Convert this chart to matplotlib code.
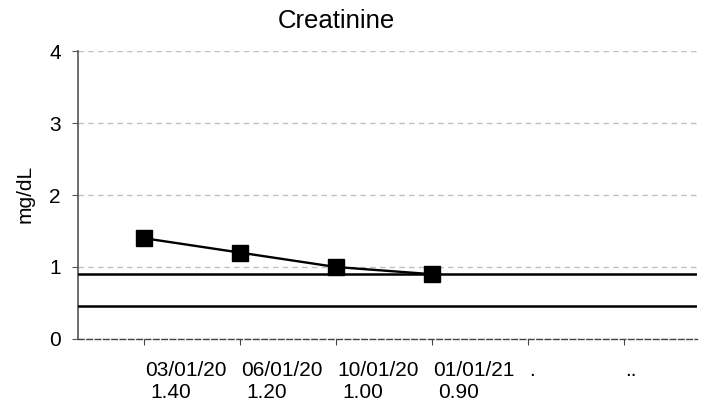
import matplotlib
matplotlib.use('Agg')
import matplotlib.pyplot as plt
import matplotlib.transforms as mtransforms

plt.rcParams['font.family'] = ['Liberation Sans', 'DejaVu Sans']

# Data
dates = ['03/01/20', '06/01/20', '10/01/20', '01/01/21', '.', '..']
values = [1.40, 1.20, 1.00, 0.90]
value_labels = ['1.40', '1.20', '1.00', '0.90', '', '']
upper_ref = 0.90
lower_ref = 0.46

fig = plt.figure(figsize=(7.01, 4.05), dpi=100)
ax = fig.add_axes([0.111, 0.163, 0.883, 0.711])

x = list(range(len(dates)))
ax.plot(x[:len(values)], values, color='black', linewidth=1.7,
        marker='s', markersize=12, zorder=4)

ax.axhline(upper_ref, color='black', linewidth=1.8, zorder=3)
ax.axhline(lower_ref, color='black', linewidth=1.8, zorder=3)

ax.set_xlim(-0.69, 5.76)
ax.set_ylim(0, 4)
ax.set_yticks([0, 1, 2, 3, 4])
ax.set_xticks(x)
ax.set_xticklabels([])

ax.grid(axis='y', color='#c0c0c0', linestyle=(0, (4, 3)), linewidth=1)
ax.set_axisbelow(True)

for s in ['top', 'right']:
    ax.spines[s].set_visible(False)
ax.spines['left'].set_color('#555555')
ax.spines['left'].set_linewidth(1.2)
ax.spines['bottom'].set_color('#444444')
ax.spines['bottom'].set_linestyle((0, (4, 2)))
ax.spines['bottom'].set_linewidth(1)

ax.tick_params(axis='y', labelsize=15, length=4.3, color='#555555', pad=8)
ax.tick_params(axis='x', length=4, color='#444444')

# category labels: date on top, value underneath, left-aligned at tick
trans = mtransforms.blended_transform_factory(ax.transData, fig.transFigure)
for i, (d, v) in enumerate(zip(dates, value_labels)):
    ax.text(i + 0.01, 1 - 376 / 405, d, transform=trans, ha='left',
            va='baseline', fontsize=15)
    ax.text(i + 0.065, 1 - 398 / 405, v, transform=trans, ha='left',
            va='baseline', fontsize=15)

fig.text(25.5 / 701, 1 - 194 / 405, 'mg/dL', rotation=90, fontsize=15,
         ha='center', va='center')
fig.text(336.5 / 701, 1 - 28 / 405, 'Creatinine', fontsize=18.5,
         ha='center', va='baseline')

plt.savefig('out.png', dpi=100)
